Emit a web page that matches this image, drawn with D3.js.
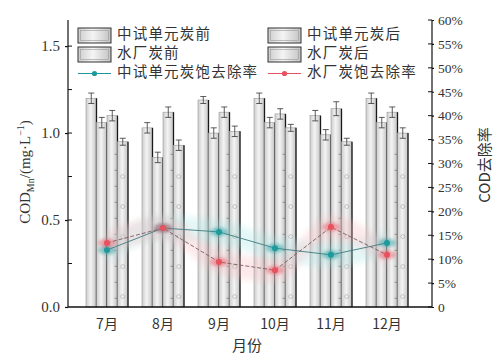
<!DOCTYPE html>
<html>
<head>
<meta charset="utf-8">
<script src="https://cdn.jsdelivr.net/npm/d3@7"></script>
<style>
  html, body { margin: 0; padding: 0; background: #fff; }
  svg { display: block; }
  .num { font-family: "Liberation Serif", "DejaVu Serif", serif; }
  .cjk { font-family: "Noto Sans CJK SC", "Liberation Serif", serif; }
</style>
</head>
<body>
<svg id="chart" width="495" height="356"></svg>
<script>
// Monthly COD_Mn before/after carbon, pilot unit vs. plant, with removal rates
const months = ["7月", "8月", "9月", "10月", "11月", "12月"];
const seriesNames = ["中试单元炭前", "中试单元炭后", "水厂炭前", "水厂炭后"];
const pilotBefore = [1.20, 1.03, 1.19, 1.20, 1.10, 1.20];
const pilotAfter  = [1.06, 0.86, 1.00, 1.06, 0.99, 1.06];
const plantBefore = [1.10, 1.12, 1.12, 1.11, 1.14, 1.12];
const plantAfter  = [0.95, 0.93, 1.01, 1.03, 0.95, 1.00];
const pilotBeforeErr = [0.03, 0.03, 0.02, 0.03, 0.03, 0.03];
const pilotAfterErr  = [0.03, 0.03, 0.03, 0.03, 0.03, 0.03];
const plantBeforeErr = [0.03, 0.03, 0.03, 0.03, 0.04, 0.03];
const plantAfterErr  = [0.02, 0.03, 0.03, 0.02, 0.02, 0.03];
const pilotRate = [11.9, 16.5, 15.7, 12.3, 10.9, 13.4];   // 中试单元炭饱去除率, %
const plantRate = [13.4, 16.5, 9.4, 7.7, 16.7, 10.9];    // 水厂炭饱去除率, %
const leftTicks = [0, 0.5, 1.0, 1.5];
const leftTickLabels = ["0.0", "0.5", "1.0", "1.5"];
const rightTicks = [0, 5, 10, 15, 20, 25, 30, 35, 40, 45, 50, 55, 60];
const rightTickLabels = ["0", "5%", "10%", "15%", "20%", "25%", "30%", "35%", "40%", "45%", "50%", "55%", "60%"];

const values = [pilotBefore, pilotAfter, plantBefore, plantAfter];
const errors = [pilotBeforeErr, pilotAfterErr, plantBeforeErr, plantAfterErr];

const svg = d3.select("#chart");
const plotLeft = 68, plotRight = 432, plotTop = 20, plotBottom = 307;

const x0 = d3.scaleBand().domain(months).range([79, 415]).paddingInner(0.25).paddingOuter(0.125);
const x1 = d3.scaleBand().domain(seriesNames).range([0, x0.bandwidth()]);
const yL = d3.scaleLinear().domain([0, 1.65]).range([plotBottom, plotTop]);
const yR = d3.scaleLinear().domain([0, 60]).range([plotBottom, plotTop]);

// ---- defs: bar gradient, glow ----
const defs = svg.append("defs");
const grad = defs.append("linearGradient").attr("id", "barGrad").attr("x1", "0").attr("x2", "1").attr("y1", "0").attr("y2", "0");
grad.append("stop").attr("offset", "0%").attr("stop-color", "#cdcdcd");
grad.append("stop").attr("offset", "45%").attr("stop-color", "#f4f4f4");
grad.append("stop").attr("offset", "100%").attr("stop-color", "#c2c2c2");
defs.append("filter").attr("id", "glow").attr("x", "-100%").attr("y", "-100%").attr("width", "300%").attr("height", "300%")
  .append("feGaussianBlur").attr("stdDeviation", 1.6);
defs.append("filter").attr("id", "soft").attr("x", "-20%").attr("y", "-50%").attr("width", "140%").attr("height", "200%")
  .append("feGaussianBlur").attr("stdDeviation", 3);

// ---- bars ----
const barData = [];
months.forEach((m, i) => seriesNames.forEach((s, j) => {
  barData.push({ m, s, j, v: values[j][i], e: errors[j][i] });
}));

const bars = svg.append("g");
bars.selectAll("g.bar").data(barData).join("g").attr("class", "bar").each(function (d) {
  const g = d3.select(this);
  const bx = x0(d.m) + x1(d.s);
  const bw = x1.bandwidth();
  const by = yL(d.v);
  g.append("rect").attr("x", bx).attr("y", by).attr("width", bw).attr("height", plotBottom - by)
    .attr("fill", "url(#barGrad)").attr("stroke", "#999").attr("stroke-width", 0.6);
  // dark right edge
  g.append("line").attr("x1", bx + bw).attr("x2", bx + bw).attr("y1", by).attr("y2", plotBottom)
    .attr("stroke", "#1a1a1a").attr("stroke-width", 1.3);
  // light fill patterns per series
  if (d.j === 2) {
    d3.range(yL(0.05), by + 30, -16).forEach(yy => {
      g.append("line").attr("x1", bx + bw - 3).attr("x2", bx + bw - 0.5).attr("y1", yy).attr("y2", yy)
        .attr("stroke", "#666").attr("stroke-width", 0.6);
    });
  }
  if (d.j === 3) {
    d3.range(yL(0.06), yL(0.75), -30).forEach(yy => {
      g.append("circle").attr("cx", bx + bw / 2).attr("cy", yy).attr("r", 2)
        .attr("fill", "none").attr("stroke", "#999").attr("stroke-width", 0.5);
    });
  }
  // error bar
  const cx = bx + bw / 2;
  g.append("line").attr("x1", cx).attr("x2", cx).attr("y1", yL(d.v + d.e)).attr("y2", yL(d.v - d.e))
    .attr("stroke", "#333").attr("stroke-width", 0.8);
  [d.v + d.e, d.v - d.e].forEach(t => {
    g.append("line").attr("x1", cx - 3).attr("x2", cx + 3).attr("y1", yL(t)).attr("y2", yL(t))
      .attr("stroke", "#333").attr("stroke-width", 0.8);
  });
});

// ---- removal rate lines with soft bands ----
const lineSeries = [
  { vals: pilotRate, color: "#1d9a9c", line: "#3e7c7e", band: "#9fe3e3", dash: null },
  { vals: plantRate, color: "#e8515e", line: "#7a5a5c", band: "#f8b4b9", dash: "4,2" }
];
const cxOf = i => x0(months[i]) + x0.bandwidth() / 2;
lineSeries.forEach(ls => {
  const pts = ls.vals.map((v, i) => [cxOf(i), v]);
  const area = d3.area().x(p => p[0]).y0(p => yR(p[1] - 2.5)).y1(p => yR(p[1] + 2.5)).curve(d3.curveMonotoneX);
  svg.append("path").datum(pts).attr("d", area).attr("fill", ls.band).attr("opacity", 0.28).attr("filter", "url(#soft)");
});
lineSeries.forEach(ls => {
  const pts = ls.vals.map((v, i) => [cxOf(i), v]);
  const line = d3.line().x(p => p[0]).y(p => yR(p[1]));
  svg.append("path").datum(pts).attr("d", line).attr("fill", "none")
    .attr("stroke", ls.line).attr("stroke-width", 0.9).attr("stroke-dasharray", ls.dash);
  svg.append("g").selectAll("ellipse").data(pts).join("ellipse")
    .attr("cx", p => p[0]).attr("cy", p => yR(p[1])).attr("rx", 9).attr("ry", 4.5)
    .attr("fill", ls.color).attr("opacity", 0.45).attr("filter", "url(#glow)");
  svg.append("g").selectAll("circle").data(pts).join("circle")
    .attr("cx", p => p[0]).attr("cy", p => yR(p[1])).attr("r", 3)
    .attr("fill", ls.color);
});

// ---- axes ----
const axisColor = "#111";
svg.append("line").attr("x1", plotLeft).attr("x2", plotRight).attr("y1", plotBottom).attr("y2", plotBottom)
  .attr("stroke", axisColor).attr("stroke-width", 1.4);

const gL = svg.append("g").attr("transform", `translate(${plotLeft},0)`)
  .call(d3.axisLeft(yL).tickValues(leftTicks).tickFormat((d, i) => leftTickLabels[i]).tickSize(3).tickPadding(5));
gL.select(".domain").attr("d", `M0,${plotTop}V${plotBottom}`);
gL.selectAll("line, path").attr("stroke", axisColor).attr("stroke-width", 1.2);
gL.selectAll("text").attr("class", "num").attr("font-size", 15).attr("fill", "#333");
// inner minor ticks
gL.append("g").selectAll("line").data([0.25, 0.5, 0.75, 1.0, 1.25, 1.5]).join("line")
  .attr("x1", 0).attr("x2", 4).attr("y1", d => yL(d)).attr("y2", d => yL(d))
  .attr("stroke", axisColor).attr("stroke-width", 1);

const gR = svg.append("g").attr("transform", `translate(${plotRight},0)`)
  .call(d3.axisRight(yR).tickValues(rightTicks).tickFormat((d, i) => rightTickLabels[i]).tickSize(2).tickPadding(4));
gR.select(".domain").attr("d", `M0,${plotTop}V${plotBottom}`);
gR.selectAll("line, path").attr("stroke", axisColor).attr("stroke-width", 1.2);
gR.selectAll("text").attr("class", "num").attr("font-size", 13.5).attr("fill", "#333");
gR.append("g").selectAll("line").data(rightTicks).join("line")
  .attr("x1", -4).attr("x2", 0).attr("y1", d => yR(d)).attr("y2", d => yR(d))
  .attr("stroke", axisColor).attr("stroke-width", 1);

// x category labels
const gX = svg.append("g").attr("transform", `translate(0,${plotBottom})`)
  .call(d3.axisBottom(x0).tickSize(0).tickPadding(12));
gX.select(".domain").remove();
gX.selectAll("text").attr("class", "cjk").attr("font-size", 14).attr("fill", "#333");

// axis titles
svg.append("text").attr("class", "cjk").attr("x", 247).attr("y", 351).attr("text-anchor", "middle")
  .attr("font-size", 15).attr("fill", "#333").text("月份");

const lt = svg.append("text").attr("class", "num").attr("transform", "translate(30,172) rotate(-90)")
  .attr("text-anchor", "middle").attr("font-size", 15).attr("fill", "#333");
lt.append("tspan").text("COD");
lt.append("tspan").attr("font-size", 10).attr("dy", 4).text("Mn");
lt.append("tspan").attr("dy", -4).text("/(mg·L");
lt.append("tspan").attr("font-size", 10).attr("dy", -6).text("−1");
lt.append("tspan").attr("dy", 6).text(")");

svg.append("text").attr("class", "cjk").attr("transform", "translate(486,165) rotate(-90)")
  .attr("text-anchor", "middle").attr("dominant-baseline", "middle").attr("font-size", 15).attr("fill", "#333")
  .text("COD去除率");

// ---- legend ----
const legendItems = [
  { name: seriesNames[0], type: "bar", x: 78, y: 28 },
  { name: seriesNames[1], type: "bar", x: 268, y: 28 },
  { name: seriesNames[2], type: "bar", x: 78, y: 47 },
  { name: seriesNames[3], type: "bar", x: 268, y: 47 },
  { name: "中试单元炭饱去除率", type: "line", color: lineSeries[0].color, x: 78, y: 66 },
  { name: "水厂炭饱去除率", type: "line", color: lineSeries[1].color, x: 268, y: 66 }
];
const lg = svg.append("g");
legendItems.forEach(it => {
  if (it.type === "bar") {
    lg.append("rect").attr("x", it.x).attr("y", it.y).attr("width", 33).attr("height", 15)
      .attr("fill", "url(#barGrad)").attr("stroke", "#333").attr("stroke-width", 1);
    lg.append("rect").attr("x", it.x + 2.5).attr("y", it.y + 2.5).attr("width", 28).attr("height", 10)
      .attr("fill", "none").attr("stroke", "#999").attr("stroke-width", 0.6);
  } else {
    lg.append("line").attr("x1", it.x).attr("x2", it.x + 33).attr("y1", it.y + 7.5).attr("y2", it.y + 7.5)
      .attr("stroke", it.color).attr("stroke-width", 1);
    lg.append("circle").attr("cx", it.x + 16.5).attr("cy", it.y + 7.5).attr("r", 2.6).attr("fill", it.color);
  }
  lg.append("text").attr("class", "cjk").attr("x", it.x + 39).attr("y", it.y + 7.5)
    .attr("dominant-baseline", "middle").attr("font-size", 14.5).attr("letter-spacing", 1.2)
    .attr("fill", "#333").text(it.name);
});
</script>
</body>
</html>
